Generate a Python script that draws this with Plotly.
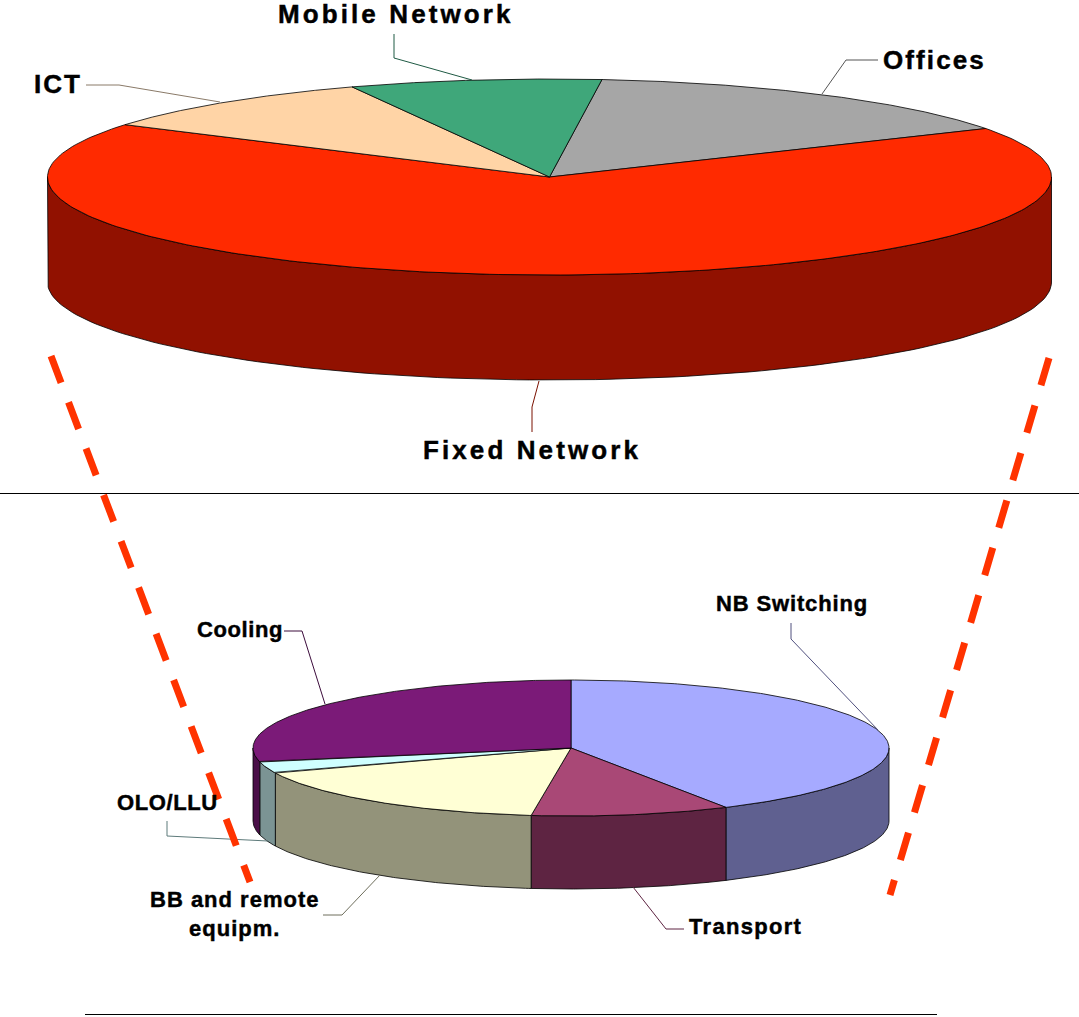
import numpy as np
import plotly.graph_objects as go

# ---- data (percent shares, clockwise from start angle) ----
top_labels = ["Offices", "Fixed Network", "ICT", "Mobile Network"]
top_shares = [15.1, 67.2, 9.6, 8.1]
top_face = ["#A6A6A6", "#FF2A00", "#FFD4A6", "#3FA77A"]
top_wall = ["#6E6E6E", "#911100", "#A88C6E", "#296E50"]

bottom_labels = ["NB Switching", "Transport", "BB and remote<br>equipm.", "OLO/LLU", "Cooling"]
bottom_shares = [41.9, 10.1, 17.0, 2.7, 28.3]
bottom_face = ["#A6AAFF", "#A94876", "#FFFFD5", "#CFFFFF", "#7B1A78"]
bottom_wall = ["#5F6090", "#5E2442", "#93937A", "#7B9494", "#4A0F48"]

# ---- pie geometry (centre x, centre y, semi-axes, wall depth, start angle) ----
TOP = dict(cx=549.5, cy=177, a=502, b=98, depth=105, start=84)
BOT = dict(cx=571, cy=748, a=318, b=68, depth=73, start=90)

EDGE = "#000000"
fig = go.Figure()


def add_poly(xs, ys, color, edge=EDGE, w=0.8):
    fig.add_trace(go.Scatter(x=xs, y=ys, mode="lines", fill="toself", fillcolor=color,
                             line=dict(color=edge, width=w), hoverinfo="skip", showlegend=False))


def draw_pie(g, shares, face, wall):
    cx, cy, a, b, d = g["cx"], g["cy"], g["a"], g["b"], g["depth"]
    spans = []
    t = g["start"]
    for s in shares:
        spans.append((t, t - s * 3.6))
        t -= s * 3.6
    # walls: only the front (lower) half of the rim is visible
    for (t0, t1), col in zip(spans, wall):
        hi, lo = min(t0, 0), max(t1, -180)
        if hi > lo:
            th = np.radians(np.linspace(hi, lo, 120))
            x = cx + a * np.cos(th)
            y = cy - b * np.sin(th)
            add_poly(np.r_[x, x[::-1], x[0]], np.r_[y, y[::-1] + d, y[0]], col)
    # faces
    for (t0, t1), col in zip(spans, face):
        th = np.radians(np.linspace(t0, t1, 240))
        x = cx + a * np.cos(th)
        y = cy - b * np.sin(th)
        add_poly(np.r_[cx, x, cx], np.r_[cy, y, cy], col)


draw_pie(TOP, top_shares, top_face, top_wall)
draw_pie(BOT, bottom_shares, bottom_face, bottom_wall)

# ---- leader lines ----
leaders = [
    ([394, 394, 472], [34, 58, 80], "#1F5A44"),
    ([86, 119, 220], [85, 85, 102], "#8A7A68"),
    ([878, 846, 822], [60, 60, 94], "#555555"),
    ([539, 532, 532], [381, 407, 432], "#7A1000"),
    ([284, 302, 325], [631, 631, 704], "#3C0C3C"),
    ([167, 167, 268], [821, 836, 841], "#5D7A7A"),
    ([323, 342, 380], [915, 915, 875], "#6E6E5C"),
    ([684, 666, 633], [929, 929, 887], "#5E2442"),
    ([791, 791, 878], [623, 639, 730], "#50507E"),
]
for xs, ys, c in leaders:
    fig.add_trace(go.Scatter(x=xs, y=ys, mode="lines", line=dict(color=c, width=1),
                             hoverinfo="skip", showlegend=False))

# ---- red dashed guides ----
for xs, ys in [([51, 250], [356, 882]), ([1049, 890], [358, 895])]:
    fig.add_trace(go.Scatter(x=xs, y=ys, mode="lines",
                             line=dict(color="#FF3300", width=7, dash="28.5px,21px"),
                             hoverinfo="skip", showlegend=False))

# ---- rules ----
for xs, ys in [([0, 1079], [493.5, 493.5]), ([85, 937], [1014.5, 1014.5])]:
    fig.add_trace(go.Scatter(x=xs, y=ys, mode="lines", line=dict(color="#000000", width=1),
                             hoverinfo="skip", showlegend=False))


def label(text, x, y, size, spacing):
    parts = text.split("<br>")
    style = f"letter-spacing:{spacing}px;stroke:#000000;stroke-width:0.45px"
    body = "<br>".join(f'<span style="{style}">{p}</span>' for p in parts)
    fig.add_annotation(x=x, y=y, text=f"<b>{body}</b>", showarrow=False, xanchor="center",
                       yanchor="middle", align="center",
                       font=dict(family="Liberation Sans", size=size, color="#000000"))


label(top_labels[3], 395.5, 14, 26, 3.1)
label(top_labels[0], 934.5, 59.5, 26, 2.1)
label(top_labels[2], 58, 84, 26, 2.0)
label(top_labels[1], 532, 450, 26, 3.1)
label(bottom_labels[0], 792, 603.5, 22, 0.85)
label(bottom_labels[1], 745.5, 926.5, 22, 1.3)
label(bottom_labels[2], 234.5, 913.5, 22, 1.0)
label(bottom_labels[3], 167.5, 802, 22, 0.6)
label(bottom_labels[4], 240, 629.5, 22, 0.6)

fig.update_layout(
    width=1079, height=1017, margin=dict(l=0, r=0, t=0, b=0),
    paper_bgcolor="white", plot_bgcolor="white", showlegend=False,
    xaxis=dict(range=[0, 1079], visible=False, fixedrange=True),
    yaxis=dict(range=[1017, 0], visible=False, fixedrange=True),
)
fig.write_html("out.html", config={"displayModeBar": False},
               post_script="document.body.style.margin='0';")
